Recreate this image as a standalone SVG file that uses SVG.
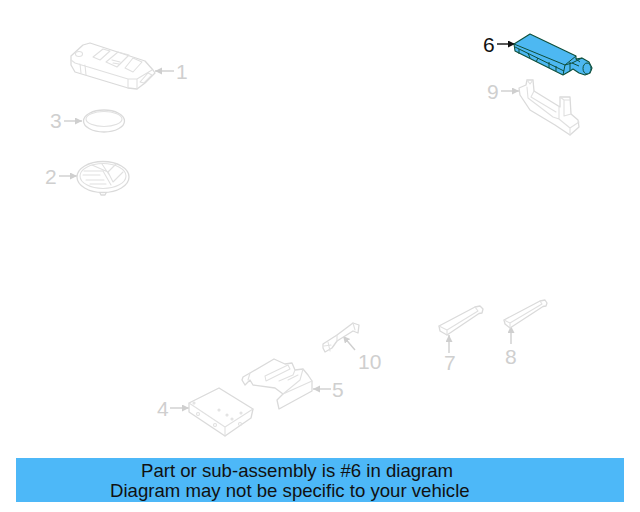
<svg xmlns="http://www.w3.org/2000/svg" width="640" height="512" viewBox="0 0 640 512">
<defs>
<marker id="ag" markerWidth="9" markerHeight="9" refX="7" refY="3.500" orient="auto" markerUnits="userSpaceOnUse"><path d="M0,0L7,3.500L0,7Z" fill="#cfcfcf"/></marker>
<marker id="ak" markerWidth="9" markerHeight="9" refX="7" refY="3.500" orient="auto" markerUnits="userSpaceOnUse"><path d="M0,0L7,3.500L0,7Z" fill="#111"/></marker>
</defs>
<style>
.p{fill:#fff;stroke:#dadada;stroke-width:1.300;stroke-linejoin:round;stroke-linecap:round}
.l{fill:none;stroke:#e0e0e0;stroke-width:1.100;stroke-linejoin:round;stroke-linecap:round}
.n{font-family:"Liberation Sans",Arial,sans-serif;font-size:21px;fill:#cfcfcf}
.c{fill:none;stroke:#cfcfcf;stroke-width:1.400;marker-end:url(#ag)}
.k{fill:none;stroke:#0e4f3a;stroke-width:1;stroke-linejoin:round}
.b{font-family:"Liberation Sans",Arial,sans-serif;font-size:18.600px;fill:#111}
</style>
<rect width="640" height="512" fill="#fff"/>
<g id="connectors">
<path class="c" d="M174,71H155"/>
<path class="c" d="M64,121H82"/>
<path class="c" d="M59,176H77"/>
<path d="M497,44H515" fill="none" stroke="#111" stroke-width="1.400" marker-end="url(#ak)"/>
<path class="c" d="M501,91H519"/>
<path class="c" d="M170,408H189"/>
<path class="c" d="M331,389H313"/>
<path class="c" d="M355,350L343,336"/>
<path class="c" d="M449,353V335"/>
<path class="c" d="M511,344V326"/>
</g>
<g id="node-1">
<path class="p" d="M71,56L83,45L90,43L145,61L153,70L155,73L145,83L137,89L128,88L75,72L71,65Z"/>
<path class="l" d="M71,60L75,63L128,79L137,79L152,70M128,79V88M137,79V89M80,64L81,73M85,65L86,75M106,62L118,52L129,55L117,67ZM93,57L103,49L110,51L100,60ZM125,68L133,58L142,62L133,72ZM112,60L120,62M113,63L119,64M140,82L148,73L152,75L144,83Z"/>
<ellipse class="l" cx="79" cy="54" rx="3.500" ry="2.500"/>
<text class="n" x="176" y="79">1</text>
</g>
<g id="node-3">
<ellipse class="p" cx="104" cy="121" rx="20.500" ry="11"/>
<ellipse class="l" cx="104" cy="119" rx="18" ry="7.500"/>
<text class="n" x="50" y="128">3</text>
</g>
<g id="node-2">
<path class="p" d="M99,191L101,195H105L107,191"/>
<ellipse class="p" cx="103" cy="177" rx="26" ry="15.500"/>
<ellipse class="l" cx="103" cy="176" rx="23" ry="12.500"/>
<path class="l" d="M84,171H103L111,185M83,175H100M86,180H104M90,184H106M92,165L108,172L116,164M108,172L113,182L123,172M102,164L110,176"/>
<text class="n" x="45" y="184">2</text>
</g>
<g id="node-6">
<path d="M514,44L530,34L576,56V59L582,58L589,62L592,68L590,73L585,75L579,73L573,69L570,71L563,75L515,51Z" fill="#4db8f2" stroke="#0e4f3a" stroke-width="1.100" stroke-linejoin="round"/>
<path class="k" d="M514,44L565,65L576,56M565,65L563,75M515,47L564,71M519,49V54M528,53L530,58M538,58L536,62M549,62V68M556,66V71M570,62V71M565,65L572,63L582,58M572,63L579,66M576,59L580,62"/>
<ellipse cx="587" cy="68.500" rx="4" ry="5.500" fill="#4db8f2" stroke="#0e4f3a"/>
<text x="483" y="52" font-family="Liberation Sans,Arial,sans-serif" font-size="21" fill="#111">6</text>
</g>
<g id="node-9">
<path class="p" d="M519,88L526,85L527,80H533L534,91L560,107V97H570L571,114L578,120L579,127L570,135L555,125L530,110L520,95Z"/>
<path class="l" d="M527,87L528,98L553,117L559,119V107M534,91L531,97L556,112M527,80L530,84L533,80M560,97L564,100H570M564,100V116L571,114M559,119L570,128V135M570,128L579,122"/>
<text class="n" x="487" y="99">9</text>
</g>
<g id="node-4">
<path class="p" d="M189,403L219,388L253,409L251,418L225,436L189,412Z"/>
<path class="l" d="M189,403L225,427L253,409M225,427V436"/>
<circle class="l" cx="219" cy="410" r="1"/><circle class="l" cx="227" cy="415" r="1"/><circle class="l" cx="232" cy="419" r="1"/><circle class="l" cx="241" cy="413" r="1"/><circle class="l" cx="198" cy="414" r="1.500"/><circle class="l" cx="215" cy="425" r="1.500"/><circle class="l" cx="240" cy="424" r="1.500"/><circle class="l" cx="194" cy="403" r="1"/>
<text class="n" x="157" y="416">4</text>
</g>
<g id="node-5">
<path class="p" d="M242,380L243,377L250,373L274,359L285,364L292,363L295,370L303,369L308,375L312,381V391L279,409L277,400L283,394L275,388L253,385L250,380L245,385Z"/>
<path class="l" d="M265,376L266,381L290,369L288,365ZM279,381L293,375L295,370M288,380L298,375M283,394L312,381M303,369L300,380L283,394M250,373L248,380"/>
<text class="n" x="332" y="397">5</text>
</g>
<g id="node-10">
<path class="p" d="M323,344L337,335L353,323L359,325L358,333L353,331L337,341L332,348L325,352L323,348Z"/>
<path class="l" d="M328,342L330,351M337,335L337,341M353,323L355,330M324,346L331,345"/>
<text class="n" x="358" y="369">10</text>
</g>
<g id="node-7">
<path class="p" d="M439,326L475,307L480,306L483,309L482,313L479,313.500L447,335L440,331Z"/>
<path class="l" d="M439,326L447,330L478,311M447,330V335M475,307L478,311"/>
<text class="n" x="444" y="370">7</text>
</g>
<g id="node-8">
<path class="p" d="M504,320L540,301L545,300L547,303L546,306L543,306.500L510,328L505,324Z"/>
<path class="l" d="M504,320L510,323L542,304M510,323V328M540,301L542,304"/>
<text class="n" x="505" y="364">8</text>
</g>
<g id="banner">
<rect x="16" y="458" width="608" height="44" fill="#4db8f8"/>
<text class="b" x="141" y="477">Part or sub-assembly is #6 in diagram</text>
<text class="b" x="110" y="497">Diagram may not be specific to your vehicle</text>
</g>
</svg>
